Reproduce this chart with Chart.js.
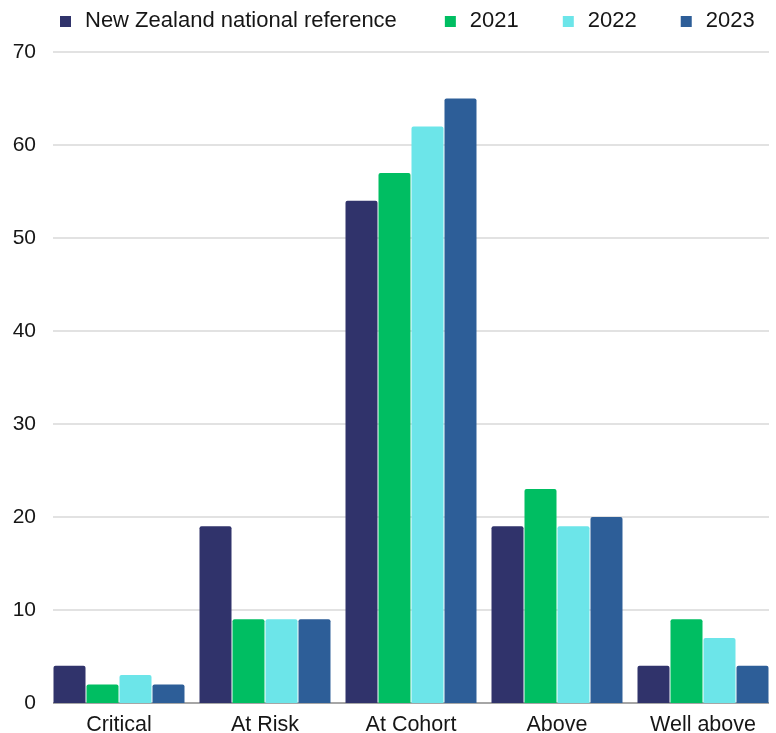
<!DOCTYPE html>
<html>
<head>
<meta charset="utf-8">
<script src="https://cdn.jsdelivr.net/npm/chart.js@4/dist/chart.umd.min.js"></script>
<style>
  html, body { margin: 0; padding: 0; background: #ffffff; }
  #wrap { width: 776px; height: 733px; }
</style>
</head>
<body>
<div id="wrap"><canvas id="chart" width="776" height="733"></canvas></div>
<script>
// Achievement bands
const categories = ['Critical', 'At Risk', 'At Cohort', 'Above', 'Well above'];

// Percentage of students in each band
const nzReference = [4, 19, 54, 19, 4];
const year2021 = [2, 9, 57, 23, 9];
const year2022 = [3, 9, 62, 19, 7];
const year2023 = [2, 9, 65, 20, 4];

const seriesLabels = ['New Zealand national reference', '2021', '2022', '2023'];
const yTicks = [0, 10, 20, 30, 40, 50, 60, 70];

const colors = ['#30336b', '#00be62', '#6ce5e9', '#2d5e98'];
const FONT = '"Liberation Sans", Arial, Helvetica, sans-serif';
const TEXT = '#161616';

// Horizontal gridlines and baseline, kept within the span of the bar groups
const gridPlugin = {
  id: 'bandGrid',
  beforeDatasetsDraw(chart) {
    const { ctx, chartArea, scales } = chart;
    const inset = 7;
    const x0 = chartArea.left + inset;
    const x1 = chartArea.right - inset;
    ctx.save();
    yTicks.forEach(v => {
      const y = Math.round(scales.y.getPixelForValue(v));
      ctx.beginPath();
      ctx.lineWidth = v === 0 ? 2 : 1.5;
      ctx.strokeStyle = v === 0 ? '#a6a6a6' : '#d9d9d9';
      ctx.moveTo(x0, y);
      ctx.lineTo(x1, y);
      ctx.stroke();
    });
    ctx.restore();
  }
};

// Legend row across the top
const legendPlugin = {
  id: 'topLegend',
  afterDraw(chart) {
    const { ctx } = chart;
    ctx.save();
    ctx.font = '22px ' + FONT;
    ctx.textBaseline = 'middle';
    let x = 60;
    const yMid = 21;
    chart.data.datasets.forEach((ds, i) => {
      ctx.fillStyle = ds.backgroundColor;
      ctx.fillRect(x, yMid - 5, 11, 11);
      x += 25;
      ctx.fillStyle = TEXT;
      ctx.fillText(ds.label, x, yMid);
      x += ctx.measureText(ds.label).width + (i === 0 ? 48 : 44);
    });
    ctx.restore();
  }
};

const datasets = [nzReference, year2021, year2022, year2023].map((vals, i) => ({
  label: seriesLabels[i],
  data: vals,
  backgroundColor: colors[i],
  borderWidth: 0,
  borderRadius: 2,
  categoryPercentage: 0.904,
  barPercentage: 0.97
}));

new Chart(document.getElementById('chart'), {
  type: 'bar',
  data: { labels: categories, datasets },
  plugins: [gridPlugin, legendPlugin],
  options: {
    responsive: false,
    animation: false,
    layout: { padding: { top: 52, left: 0, right: 0, bottom: 0 } },
    plugins: {
      legend: { display: false },
      tooltip: { enabled: false }
    },
    scales: {
      x: {
        grid: { display: false },
        border: { display: false },
        ticks: {
          color: TEXT,
          font: { family: FONT, size: 21.5 },
          padding: 1
        },
        afterFit(scale) { scale.height = 30; }
      },
      y: {
        min: 0,
        max: 70,
        grid: { display: false },
        border: { display: false },
        ticks: {
          stepSize: 10,
          color: TEXT,
          font: { family: FONT, size: 21 },
          padding: 2
        },
        afterFit(scale) { scale.width = 46; }
      }
    }
  }
});
</script>
</body>
</html>
